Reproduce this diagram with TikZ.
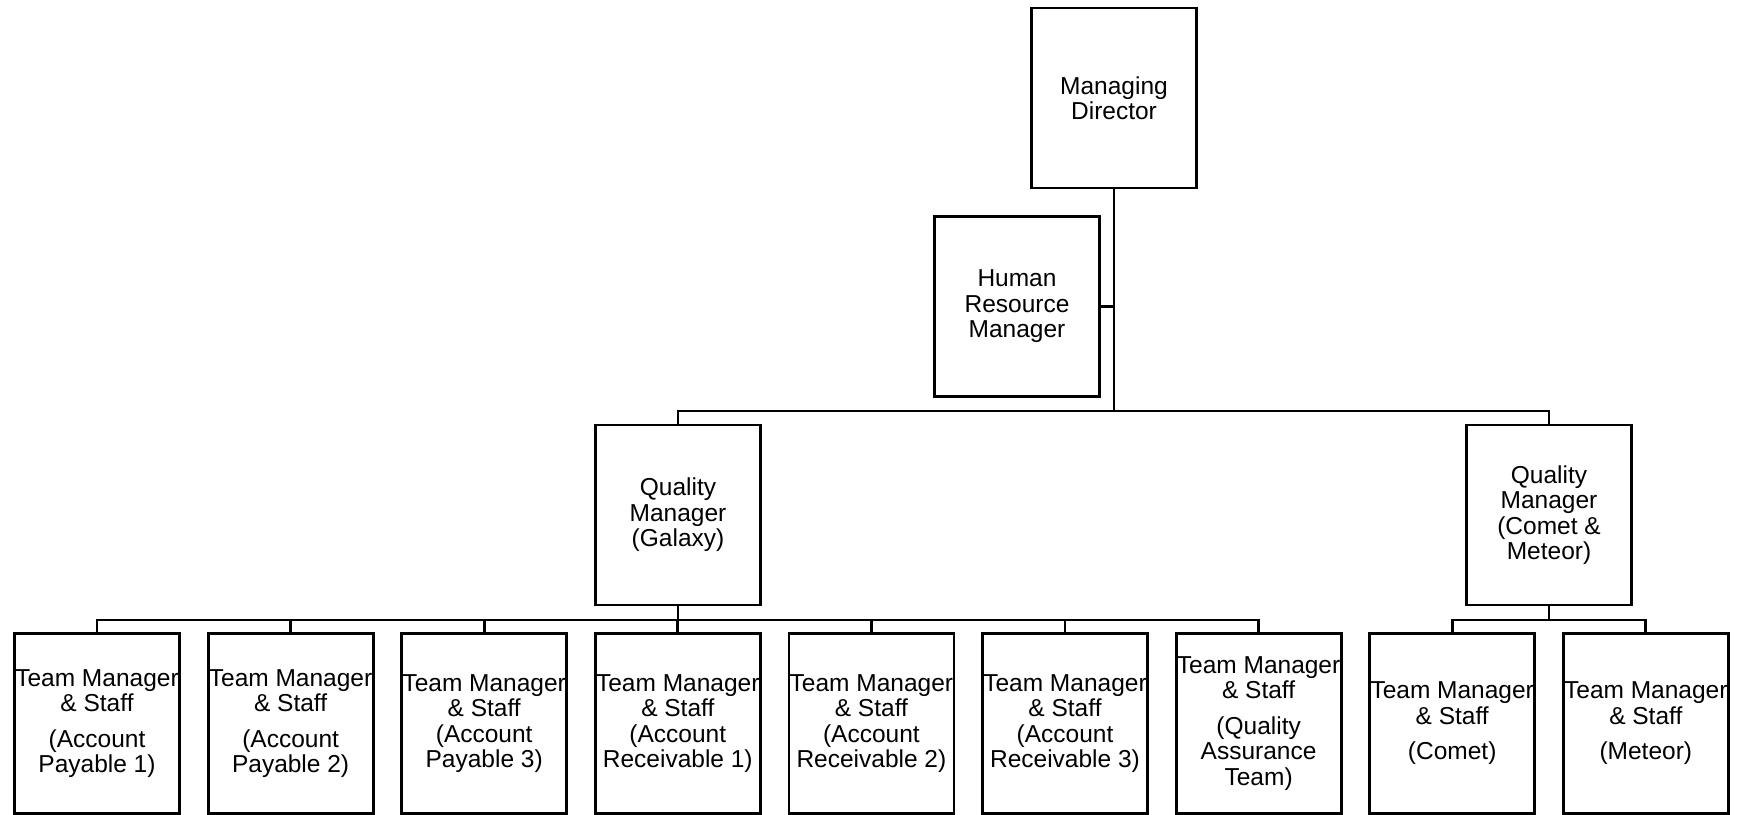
\documentclass[tikz,border=0pt]{standalone}
\usepackage{fontspec}
\setmainfont{Liberation Sans}
\begin{document}
\begin{tikzpicture}[x=1pt,y=-1pt,
  box/.style={draw, line width=2.8pt, minimum width=165pt, minimum height=180pt,
    inner sep=0pt, align=center, font=\fontsize{24.5}{25.5}\selectfont},
  link/.style={line width=2.8pt}]
\useasboundingbox (0,0) rectangle (1742,814);
\clip (0,0) rectangle (1742,814);

% top levels
\node[box] (md) at (1114,98) {Managing\\Director};
\node[box] (hr) at (1017,306.5) {Human\\Resource\\Manager};
\node[box] (qg) at (678,515) {Quality\\Manager\\(Galaxy)};
\node[box] (qc) at (1549,515) {Quality\\Manager\\(Comet \&\\Meteor)};

% teams
\node[box] (t1) at (97,723.5)   {Team Manager\\\& Staff\\[10pt](Account\\Payable 1)};
\node[box] (t2) at (290.6,723.5){Team Manager\\\& Staff\\[10pt](Account\\Payable 2)};
\node[box] (t3) at (484.2,723.5){Team Manager\\\& Staff\\(Account\\Payable 3)};
\node[box] (t4) at (677.8,723.5){Team Manager\\\& Staff\\(Account\\Receivable 1)};
\node[box] (t5) at (871.4,723.5){Team Manager\\\& Staff\\(Account\\Receivable 2)};
\node[box] (t6) at (1065,723.5) {Team Manager\\\& Staff\\(Account\\Receivable 3)};
\node[box] (t7) at (1258.6,723.5){Team Manager\\\& Staff\\[10pt](Quality\\Assurance\\Team)};
\node[box] (t8) at (1452.2,723.5){Team Manager\\\& Staff\\[10pt](Comet)};
\node[box] (t9) at (1645.8,723.5){Team Manager\\\& Staff\\[10pt](Meteor)};

% reporting lines
\coordinate (bus) at (1114,411);
\draw[link] (md.south) -- (bus);
\draw[link] (hr.east) -- (hr.east -| md.south);
\draw[link] (qg.north) |- (bus) -| (qc.north);
\foreach \i in {1,...,7}
  \draw[link] (qg.south) -- ++(0,13.5) -| (t\i.north);
\foreach \i in {8,9}
  \draw[link] (qc.south) -- ++(0,13.5) -| (t\i.north);
\end{tikzpicture}
\end{document}
